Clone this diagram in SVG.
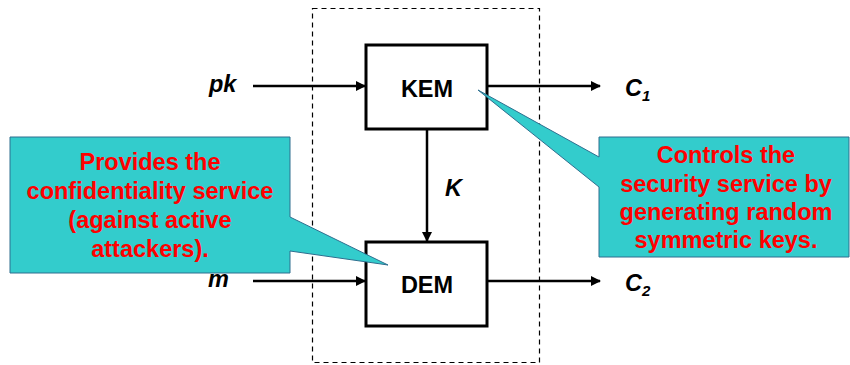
<svg xmlns="http://www.w3.org/2000/svg" width="850" height="365" viewBox="0 0 850 365">
<style>
.box{fill:#fff;stroke:#000;stroke-width:3}
.wire{stroke:#000;stroke-width:2.5;fill:none}
.lbl{font-family:"Liberation Sans",Arial,sans-serif;font-weight:bold;font-size:23.5px;fill:#000}
.it{font-style:italic}
.call{fill:#33CCCC;stroke:#2F6F8F;stroke-width:1}
.ct{font-family:"Liberation Sans",Arial,sans-serif;font-weight:bold;font-size:23.5px;fill:#FF0000;text-anchor:middle}
</style>
<defs>
<marker id="ah" markerWidth="10" markerHeight="10" refX="9" refY="5" orient="auto" markerUnits="userSpaceOnUse">
<path d="M0,0 L10,5 L0,10 Z" fill="#000"/>
</marker>
</defs>
<rect id="boundary" x="312.5" y="8.5" width="227" height="354" fill="none" stroke="#000" stroke-width="1.2" stroke-dasharray="5,4"/>
<g id="connectors">
<line class="wire" x1="253" y1="86" x2="365" y2="86" marker-end="url(#ah)"/>
<line class="wire" x1="488" y1="86" x2="600" y2="86" marker-end="url(#ah)"/>
<line class="wire" x1="427" y1="130" x2="427" y2="241" marker-end="url(#ah)"/>
<line class="wire" x1="253" y1="281" x2="365" y2="281" marker-end="url(#ah)"/>
<line class="wire" x1="488" y1="281" x2="600" y2="281" marker-end="url(#ah)"/>
<text class="lbl it" x="445" y="196">K</text>
</g>
<g id="pk"><text class="lbl it" x="209" y="92">pk</text></g>
<g id="m"><text class="lbl it" x="208" y="287">m</text></g>
<g id="c1"><text class="lbl it" x="625" y="96">C<tspan font-size="15" dy="5">1</tspan></text></g>
<g id="c2"><text class="lbl it" x="625" y="291">C<tspan font-size="15" dy="5">2</tspan></text></g>
<g id="kem">
<rect class="box" x="366" y="45" width="121" height="84"/>
<text class="lbl" x="427" y="97" text-anchor="middle">KEM</text>
</g>
<g id="dem">
<rect class="box" x="366" y="242" width="121" height="84"/>
<text class="lbl" x="427" y="293" text-anchor="middle">DEM</text>
</g>
<g id="callout-left">
<path class="call" d="M10,137 H290 V217 L388,265 L290,251 V273 H10 Z"/>
<text class="ct" x="150" y="170">Provides the</text>
<text class="ct" x="150" y="199">confidentiality service</text>
<text class="ct" x="150" y="228">(against active</text>
<text class="ct" x="150" y="257">attackers).</text>
</g>
<g id="callout-right">
<path class="call" d="M599,137 H849 V257 H599 V187 L478,90 L599,157 Z"/>
<text class="ct" x="726" y="163">Controls the</text>
<text class="ct" x="726" y="192">security service by</text>
<text class="ct" x="726" y="220">generating random</text>
<text class="ct" x="726" y="248">symmetric keys.</text>
</g>
</svg>
